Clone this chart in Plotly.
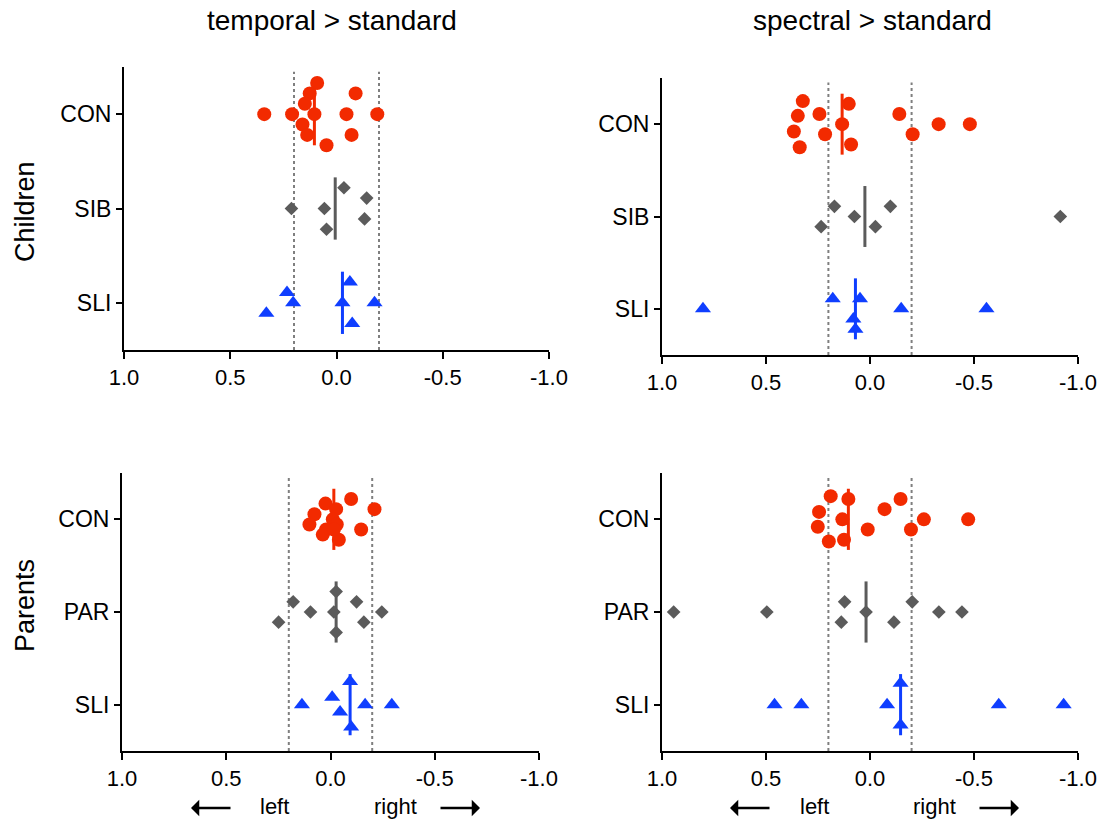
import numpy as np
import plotly.graph_objects as go

# ---------------- data ----------------
children_groups = ["CON", "SIB", "SLI"]
parents_groups = ["CON", "PAR", "SLI"]
x_tick_vals = [1.0, 0.5, 0.0, -0.5, -1.0]
x_tick_text = ["1.0", "0.5", "0.0", "-0.5", "-1.0"]
panel_titles = ["temporal > standard", "spectral > standard"]
row_titles = ["Children", "Parents"]

# temporal > standard, children
tc_con = [0.091, 0.126, -0.090, 0.149, 0.340, 0.209, 0.104, -0.047, -0.192, 0.160, 0.138, -0.071, 0.047]
tc_con_dy = [0.33, 0.22, 0.22, 0.11, 0, 0, 0, 0, 0, -0.11, -0.22, -0.22, -0.33]
tc_sib = [-0.035, -0.142, 0.212, 0.057, -0.132, 0.047]
tc_sib_dy = [0.22, 0.11, 0, 0, -0.11, -0.22]
tc_sli = [-0.063, 0.233, 0.204, -0.028, -0.179, 0.330, -0.074]
tc_sli_dy = [0.22, 0.11, 0, 0, 0, -0.11, -0.22]

# spectral > standard, children
sc_con = [0.323, 0.102, 0.347, 0.243, -0.141, 0.134, -0.330, -0.480, 0.366, 0.216, -0.205, 0.338, 0.091]
sc_con_dy = [0.25, 0.22, 0.09, 0.11, 0.11, 0, 0, 0, -0.08, -0.11, -0.11, -0.25, -0.22]
sc_sib = [0.171, -0.098, 0.075, -0.915, 0.235, -0.026]
sc_sib_dy = [0.11, 0.11, 0, 0, -0.11, -0.11]
sc_sli = [0.803, 0.179, 0.048, -0.150, -0.560, 0.080, 0.070]
sc_sli_dy = [0, 0.11, 0.11, 0, 0, -0.11, -0.22]

# temporal > standard, parents
tp_con = [-0.099, 0.024, -0.027, -0.211, 0.077, -0.011, 0.101, -0.030, 0.021, -0.147, 0.037, -0.040, -0.016]
tp_con_dy = [0.22, 0.17, 0.11, 0.11, 0.055, 0, -0.055, -0.055, -0.11, -0.11, -0.165, -0.22, -0.11]
tp_par = [-0.027, 0.179, -0.125, 0.096, -0.016, -0.246, 0.249, -0.160, -0.027]
tp_par_dy = [0.22, 0.11, 0.11, 0, 0, 0, -0.11, -0.11, -0.22]
tp_sli = [-0.094, -0.008, -0.046, -0.099, 0.137, -0.166, -0.294]
tp_sli_dy = [0.25, 0.08, -0.08, -0.24, 0, 0, 0]

# spectral > standard, parents
sp_con = [0.189, 0.104, -0.147, 0.245, -0.070, 0.133, -0.259, -0.472, 0.251, 0.011, -0.197, 0.198, 0.125]
sp_con_dy = [0.25, 0.22, 0.22, 0.08, 0.11, 0, 0, 0, -0.08, -0.11, -0.11, -0.24, -0.22]
sp_par = [0.944, 0.496, 0.122, 0.138, 0.019, -0.115, -0.203, -0.331, -0.442]
sp_par_dy = [0, 0, 0.11, -0.11, 0, -0.11, 0.11, 0, 0]
sp_sli = [0.459, 0.330, -0.082, -0.147, -0.147, -0.619, -0.931]
sp_sli_dy = [0, 0, 0, 0.23, -0.22, 0, 0]

threshold = 0.2

# ---------------- style ----------------
FONT = "Liberation Sans, Arial, Helvetica, sans-serif"
RED = "#F22A00"
GRAY = "#5B5B5B"
BLUE = "#0F3EFF"
W, H = 1103, 821

styles = [
    dict(color=RED, symbol="circle", size=14),
    dict(color=GRAY, symbol="diamond", size=10.5),
    dict(color=BLUE, symbol="triangle-up", size=14),
]

panels = [
    # (axis suffix, groups, data, x-domain px, y-domain px (top,bottom))
    ("", children_groups, [(tc_con, tc_con_dy), (tc_sib, tc_sib_dy), (tc_sli, tc_sli_dy)], (124, 549), (67, 350)),
    ("2", children_groups, [(sc_con, sc_con_dy), (sc_sib, sc_sib_dy), (sc_sli, sc_sli_dy)], (662, 1078), (78, 355)),
    ("3", parents_groups, [(tp_con, tp_con_dy), (tp_par, tp_par_dy), (tp_sli, tp_sli_dy)], (122, 539), (473, 751)),
    ("4", parents_groups, [(sp_con, sp_con_dy), (sp_par, sp_par_dy), (sp_sli, sp_sli_dy)], (662, 1078), (473, 751)),
]

fig = go.Figure()
layout = dict(
    width=W, height=H, autosize=False,
    margin=dict(l=0, r=0, t=0, b=0, pad=0, autoexpand=False),
    paper_bgcolor="white", plot_bgcolor="white",
    showlegend=False,
    font=dict(family=FONT, color="black", size=22),
)
shapes = []
annotations = []

for suffix, groups, data, (xl, xr), (yt, yb) in panels:
    xa = "x" + suffix
    ya = "y" + suffix
    for gi, (vals, dys) in enumerate(data):
        ycat = 2 - gi
        st = styles[gi]
        med = float(np.median(vals))
        fig.add_trace(go.Scatter(
            x=[med, med], y=[ycat - 0.33, ycat + 0.33], mode="lines",
            line=dict(color=st["color"], width=3), xaxis=xa, yaxis=ya,
            hoverinfo="skip"))
        fig.add_trace(go.Scatter(
            x=vals, y=[ycat + d for d in dys], mode="markers",
            marker=dict(color=st["color"], symbol=st["symbol"], size=st["size"],
                        line=dict(width=0)),
            xaxis=xa, yaxis=ya, name=groups[gi]))
    for t in (threshold, -threshold):
        shapes.append(dict(type="line", xref=xa, yref=ya, x0=t, x1=t, y0=-0.5, y1=2.45,
                           line=dict(color="#7F7F7F", width=2, dash="dot"), layer="below"))
    layout["xaxis" + suffix] = dict(
        domain=[xl / W, xr / W], anchor=ya, range=[1.0, -1.0], autorange=False,
        tickvals=x_tick_vals, ticktext=x_tick_text, automargin=False,
        showline=True, linecolor="black", linewidth=2, mirror=False,
        ticks="outside", ticklen=7, tickwidth=2, tickcolor="black",
        showgrid=False, zeroline=False, fixedrange=True,
        tickfont=dict(family=FONT, size=22, color="black"))
    layout["yaxis" + suffix] = dict(
        domain=[1 - yb / H, 1 - yt / H], anchor=xa, range=[-0.5, 2.5], autorange=False,
        tickvals=[2, 1, 0], ticktext=groups, automargin=False,
        showline=True, linecolor="black", linewidth=2,
        ticks="outside", ticklen=6, tickwidth=2, tickcolor="black",
        showgrid=False, zeroline=False, fixedrange=True,
        tickfont=dict(family=FONT, size=23, color="black"))

# column titles
for txt, cx in zip(panel_titles, (332, 872)):
    annotations.append(dict(text=txt, xref="paper", yref="paper", x=cx / W, y=1 - 21 / H,
                            showarrow=False, xanchor="center", yanchor="middle",
                            font=dict(family=FONT, size=28, color="black")))
# row titles
for txt, cy in zip(row_titles, (212, 606)):
    annotations.append(dict(text=txt, xref="paper", yref="paper", x=25 / W, y=1 - cy / H,
                            showarrow=False, xanchor="center", yanchor="middle", textangle=-90,
                            font=dict(family=FONT, size=27, color="black")))
# left / right direction labels
for (lt, rt, la_tip, ra_tip) in [(274, 395, 191, 480), (814, 934, 730, 1019)]:
    annotations.append(dict(text="left", xref="paper", yref="paper", x=lt / W, y=1 - 806 / H,
                            showarrow=False, xanchor="center", yanchor="middle",
                            font=dict(family=FONT, size=22, color="black")))
    annotations.append(dict(text="right", xref="paper", yref="paper", x=rt / W, y=1 - 806 / H,
                            showarrow=False, xanchor="center", yanchor="middle",
                            font=dict(family=FONT, size=22, color="black")))
    annotations.append(dict(text="", xref="paper", yref="paper", x=la_tip / W, y=1 - 808 / H,
                            showarrow=True, ax=41, ay=0, arrowhead=1, arrowsize=1.1,
                            arrowwidth=2.5, arrowcolor="black"))
    annotations.append(dict(text="", xref="paper", yref="paper", x=ra_tip / W, y=1 - 808 / H,
                            showarrow=True, ax=-41, ay=0, arrowhead=1, arrowsize=1.1,
                            arrowwidth=2.5, arrowcolor="black"))

layout["shapes"] = shapes
layout["annotations"] = annotations
fig.update_layout(**layout)
fig.write_html("out.html")
